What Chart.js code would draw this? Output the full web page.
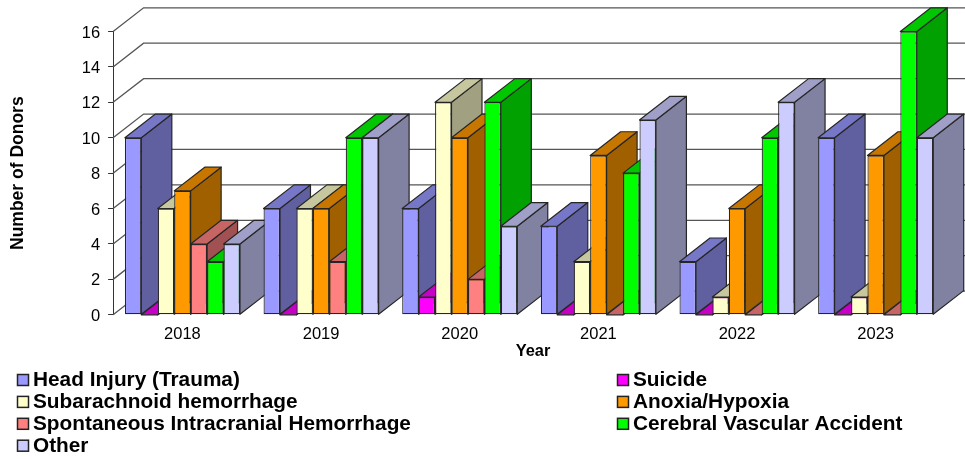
<!DOCTYPE html>
<html>
<head>
<meta charset="utf-8">
<title>Number of Donors by Year</title>
<style>html,body{margin:0;padding:0;background:#fff}canvas{display:block}</style>
<script src="https://cdn.jsdelivr.net/npm/chart.js@4"></script>
</head>
<body>
<canvas id="c" width="965" height="459"></canvas>
<script>
const years = ['2018','2019','2020','2021','2022','2023'];
const headInjury = [10,6,6,5,3,10];
const suicide = [0,0,1,0,0,0];
const subarachnoid = [6,6,12,3,1,1];
const anoxia = [7,6,10,9,6,9];
const spontaneous = [4,3,2,0,0,0];
const cerebralVascular = [3,10,12,8,10,16];
const other = [4,10,5,11,12,10];
const yTicks = [0,2,4,6,8,10,12,14,16];

const DX = 30.5, DY = 23.7;
const LINE = '#262626';
const FONT = '"Liberation Sans", Arial, sans-serif';

const mk = (label, data, rgb) => ({
  label, data, rgb,
  backgroundColor: `rgb(${rgb.join(',')})`,
  borderColor: LINE, borderWidth: 1.2, borderSkipped: false
});
const shade = (rgb, k) => `rgb(${rgb.map(v => Math.round(v * k)).join(',')})`;
const nudge = (scale, method, dx, dy) => {
  if (scale['nudged' + method]) return;
  scale['nudged' + method] = true;
  const orig = scale[method];
  scale[method] = function (...args) {
    this.ctx.save();
    this.ctx.translate(dx, dy);
    orig.apply(this, args);
    this.ctx.restore();
  };
};

const threeD = {
  id: 'threeD',
  beforeDatasetsDraw(chart) {
    const ctx = chart.ctx, y = chart.scales.y, area = chart.chartArea;
    ctx.save();
    ctx.lineWidth = 1.3;
    ctx.strokeStyle = '#555';
    yTicks.forEach(t => {
      const py = y.getPixelForValue(t);
      ctx.beginPath();
      ctx.moveTo(area.left, py);
      ctx.lineTo(area.left + DX, py - DY);
      ctx.lineTo(area.right + DX, py - DY);
      ctx.stroke();
    });
    ctx.lineWidth = 1.2;
    ctx.strokeStyle = LINE;
    ctx.lineJoin = 'round';
    const poly = (pts, fill) => {
      ctx.beginPath();
      pts.forEach((p, i) => i ? ctx.lineTo(p[0], p[1]) : ctx.moveTo(p[0], p[1]));
      ctx.closePath();
      ctx.fillStyle = fill;
      ctx.fill();
      ctx.stroke();
    };
    years.forEach((_, i) => {
      chart.data.datasets.forEach((ds, d) => {
        const el = chart.getDatasetMeta(d).data[i];
        const { x, y: top, base, width } = el.getProps(['x', 'y', 'base', 'width'], true);
        const l = x - width / 2, r = x + width / 2;
        poly([[r, top], [r + DX, top - DY], [r + DX, base - DY], [r, base]], shade(ds.rgb, 0.63));
        poly([[l, top], [l + DX, top - DY], [r + DX, top - DY], [r, top]], shade(ds.rgb, 0.78));
        if (base - top > 0.5) el.draw(ctx);
      });
    });
    ctx.restore();
    return false;
  },
  afterDraw(chart) {
    const ctx = chart.ctx;
    ctx.save();
    ctx.font = 'bold 20.8px ' + FONT;
    ctx.textBaseline = 'middle';
    chart.data.datasets.forEach((ds, d) => {
      const col = d % 2, row = Math.floor(d / 2);
      const sx = col ? 617.5 : 17.5, cy = 380 + row * 21.9;
      ctx.fillStyle = ds.backgroundColor;
      ctx.strokeStyle = '#222';
      ctx.lineWidth = 1.5;
      ctx.fillRect(sx, cy - 5.5, 11, 11);
      ctx.strokeRect(sx, cy - 5.5, 11, 11);
      ctx.fillStyle = '#000';
      ctx.fillText(ds.label, sx + 15.5, cy + 0.5);
    });
    ctx.restore();
  }
};

new Chart(document.getElementById('c'), {
  type: 'bar',
  data: {
    labels: years,
    datasets: [
      mk('Head Injury (Trauma)', headInjury, [153,153,255]),
      mk('Suicide', suicide, [255,0,255]),
      mk('Subarachnoid hemorrhage', subarachnoid, [255,255,204]),
      mk('Anoxia/Hypoxia', anoxia, [255,153,0]),
      mk('Spontaneous Intracranial Hemorrhage', spontaneous, [255,128,128]),
      mk('Cerebral Vascular Accident', cerebralVascular, [0,255,0]),
      mk('Other', other, [204,204,255])
    ]
  },
  options: {
    responsive: false,
    animation: false,
    layout: { padding: { top: 31.5, right: 20, left: 0, bottom: 0 } },
    datasets: { bar: { categoryPercentage: 0.83, barPercentage: 1 } },
    plugins: { legend: { display: false }, tooltip: { enabled: false } },
    scales: {
      x: {
        grid: { display: false },
        border: { display: false },
        ticks: { color: '#000', font: { size: 16.5, family: FONT }, padding: 2, maxRotation: 0 },
        title: { display: true, text: 'Year', color: '#000', font: { size: 16.4, weight: 'bold', family: FONT }, padding: { top: 0, bottom: 98 } },
        afterFit(s) {
          s.height = 144.2;
          nudge(s, 'drawTitle', 4, 0);
        }
      },
      y: {
        min: 0, max: 16,
        ticks: { stepSize: 2, color: '#000', font: { size: 16.5, family: FONT }, padding: 8 },
        grid: { drawOnChartArea: false, tickLength: 5, tickColor: '#333', color: '#333' },
        border: { display: true, color: '#333' },
        title: { display: true, text: 'Number of Donors', color: '#000', font: { size: 17.5, weight: 'bold', family: FONT }, padding: { top: 8, bottom: 0 } },
        afterFit(s) {
          s.width = 113.1;
          nudge(s, 'drawLabels', 0, 1.5);
        }
      }
    }
  },
  plugins: [threeD]
});
</script>
</body>
</html>
